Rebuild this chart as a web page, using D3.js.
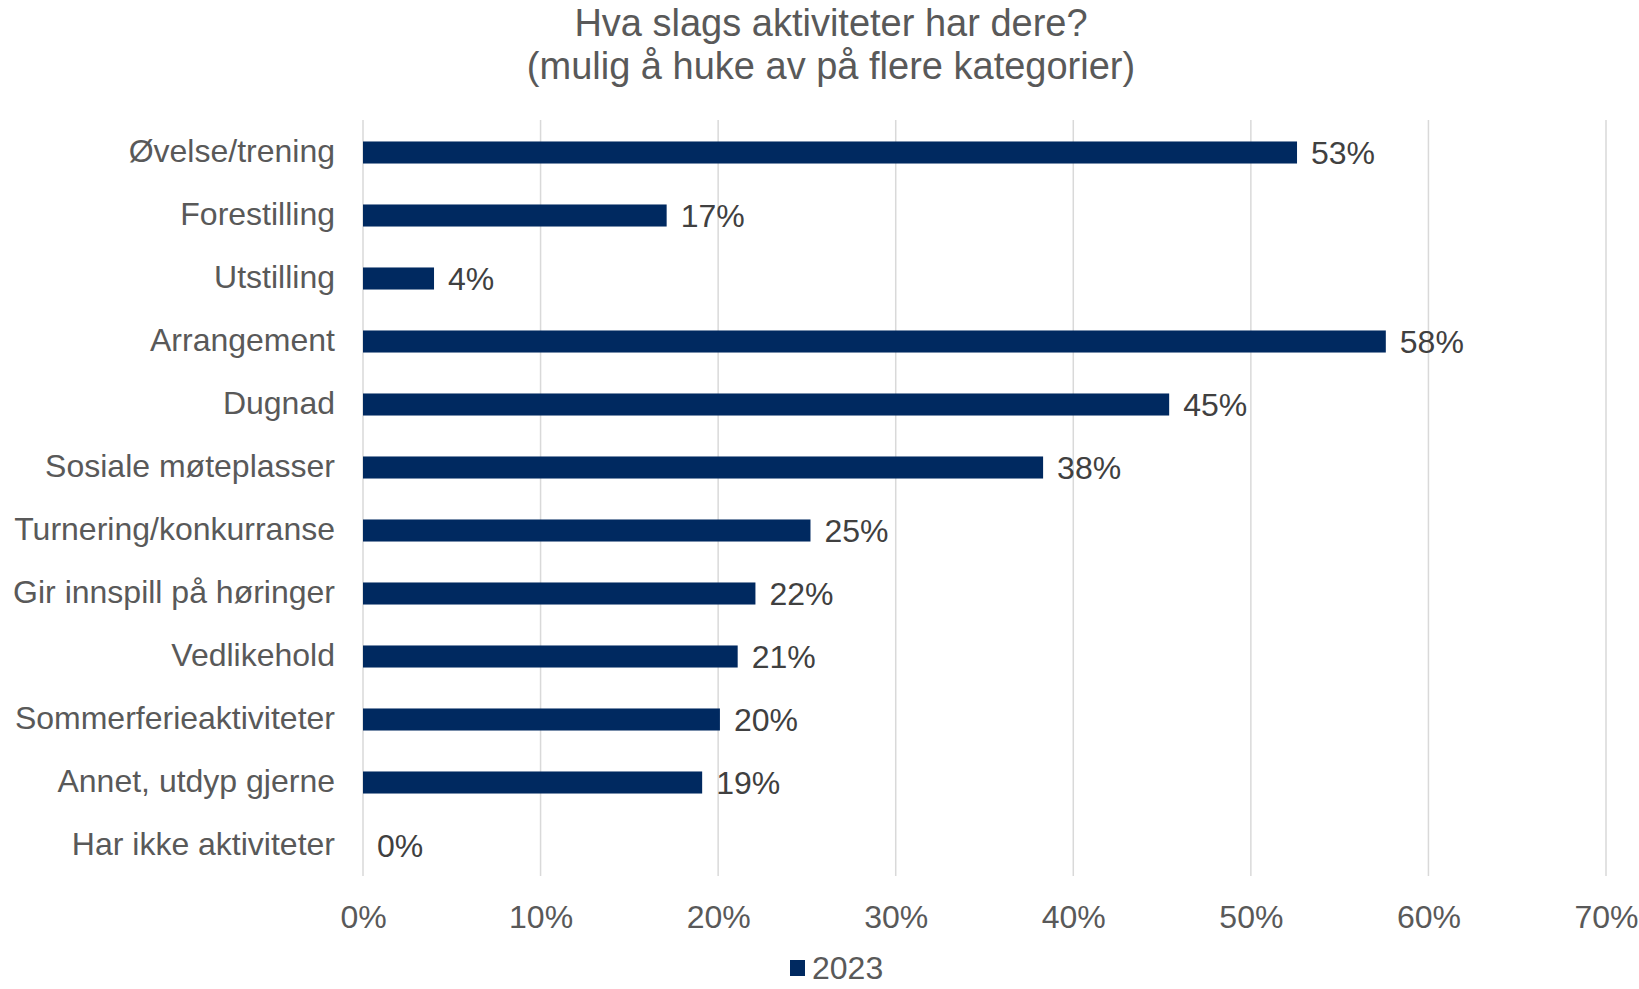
<!DOCTYPE html>
<html>
<head>
<meta charset="utf-8">
<script src="https://cdn.jsdelivr.net/npm/d3@7"></script>
<style>
    body { margin: 0; background: #ffffff; }
    text { font-family: Arial, 'Liberation Sans', sans-serif; }
</style>
</head>
<body>
<div id="chart"></div>
<script>
// Data
const categories = [
    'Øvelse/trening',
    'Forestilling',
    'Utstilling',
    'Arrangement',
    'Dugnad',
    'Sosiale møteplasser',
    'Turnering/konkurranse',
    'Gir innspill på høringer',
    'Vedlikehold',
    'Sommerferieaktiviteter',
    'Annet, utdyp gjerne',
    'Har ikke aktiviteter'
];
const values2023 = [0.526, 0.171, 0.040, 0.576, 0.454, 0.383, 0.252, 0.221, 0.211, 0.201, 0.191, 0.0];
const xTicks = [0, 0.1, 0.2, 0.3, 0.4, 0.5, 0.6, 0.7];
const seriesName = '2023';
const titleLines = ['Hva slags aktiviteter har dere?', '(mulig å huke av på flere kategorier)'];

function horizontalBarChart() {
    let width = 1639,
        height = 989,
        margin = {top: 120, right: 33, bottom: 113, left: 363};

    let barColor = '#002960',
        gridColor = '#d9d9d9',
        textColor = '#595959',
        labelColor = '#404040';

    let canvas, x, y;

    function chart(selection) {
        selection.each(function() {
            let chartWidth = width - margin.left - margin.right,
                chartHeight = height - margin.top - margin.bottom;

            x = d3.scaleLinear().domain([0, 0.7]).range([0, chartWidth]);
            y = d3.scaleBand()
                .domain(categories)
                .range([0, chartHeight])
                .paddingInner(0.65)
                .paddingOuter(0.325);

            let svg = d3.select(this)
                .append('svg')
                .attr('width', width)
                .attr('height', height);

            drawTitle(svg);

            canvas = svg.append('g')
                .attr('transform', 'translate(' + margin.left + ',' + margin.top + ')');

            drawGrid(chartHeight);
            drawBars();
            drawLabels();
            drawYAxis();
            drawXAxis(chartHeight);
            drawLegend(svg);
        });
    }

    function drawTitle(svg) {
        svg.append('g')
            .selectAll('text')
            .data(titleLines)
            .enter()
            .append('text')
            .attr('x', 831)
            .attr('y', (d, i) => 23 + i * 43)
            .attr('dy', '0.35em')
            .attr('text-anchor', 'middle')
            .style('font-size', '38px')
            .style('fill', textColor)
            .text(d => d);
    }

    function drawGrid(chartHeight) {
        canvas.selectAll('.grid')
            .data(xTicks)
            .enter()
            .append('line')
            .attr('class', 'grid')
            .attr('x1', d => x(d))
            .attr('x2', d => x(d))
            .attr('y1', 0)
            .attr('y2', chartHeight)
            .style('stroke', gridColor)
            .style('stroke-width', 1.5);
    }

    function drawBars() {
        canvas.selectAll('.bar')
            .data(values2023)
            .enter()
            .append('rect')
            .attr('class', 'bar')
            .attr('x', 0)
            .attr('y', (d, i) => y(categories[i]) + 1)
            .attr('width', d => x(d))
            .attr('height', y.bandwidth())
            .style('fill', barColor);
    }

    function drawLabels() {
        canvas.selectAll('.value')
            .data(values2023)
            .enter()
            .append('text')
            .attr('class', 'value')
            .attr('x', d => x(d) + 14)
            .attr('y', (d, i) => y(categories[i]) + y.bandwidth() / 2 + 1)
            .attr('dy', '0.36em')
            .style('font-size', '32px')
            .style('fill', labelColor)
            .text(d => Math.round(d * 100) + '%');
    }

    function drawYAxis() {
        let yAxis = d3.axisLeft(y).tickSize(0).tickPadding(28);

        let g = canvas.append('g')
            .attr('class', 'y axis')
            .call(yAxis);

        g.select('.domain').remove();
        g.selectAll('text')
            .style('font-size', '32px')
            .style('font-family', "Arial, 'Liberation Sans', sans-serif")
            .style('fill', textColor);
    }

    function drawXAxis(chartHeight) {
        let xAxis = d3.axisBottom(x)
            .tickValues(xTicks)
            .tickSize(0)
            .tickFormat(d3.format('.0%'));

        let g = canvas.append('g')
            .attr('class', 'x axis')
            .attr('transform', 'translate(0,' + chartHeight + ')')
            .call(xAxis);

        g.select('.domain').remove();
        g.selectAll('text')
            .attr('y', 40)
            .attr('dy', '0.36em')
            .style('font-size', '32px')
            .style('font-family', "Arial, 'Liberation Sans', sans-serif")
            .style('fill', textColor);
    }

    function drawLegend(svg) {
        // kept a little above the bottom edge so the text is not clipped
        let legend = svg.append('g')
            .attr('transform', 'translate(790,967)');

        legend.append('rect')
            .attr('x', 0)
            .attr('y', -7)
            .attr('width', 15)
            .attr('height', 16)
            .style('fill', barColor);

        legend.append('text')
            .attr('x', 22)
            .attr('y', 0)
            .attr('dy', '0.36em')
            .style('font-size', '32px')
            .style('fill', textColor)
            .text(seriesName);
    }

    return chart;
}

d3.select('#chart').call(horizontalBarChart());
</script>
</body>
</html>
